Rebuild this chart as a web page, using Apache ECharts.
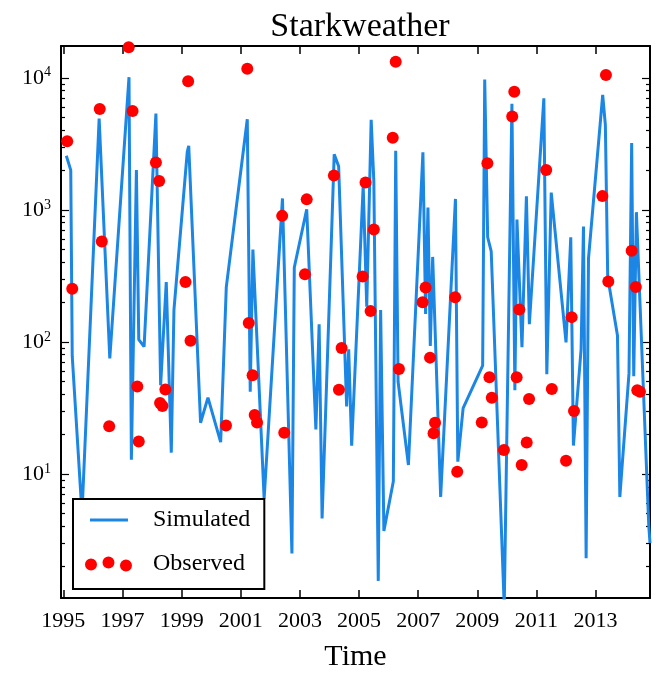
<!DOCTYPE html>
<html><head><meta charset="utf-8">
<script src="https://cdn.jsdelivr.net/npm/echarts@6/dist/echarts.min.js"></script>
<style>html,body{margin:0;padding:0;background:#fff}#c{width:664px;height:677px}</style>
</head><body><div id="c"></div>
<script>
// Simulated series (decimal year, value)
const simYears = [1995.10,1995.25,1995.30,1995.63,1996.21,1996.57,1997.22,1997.30,1997.47,1997.55,1997.73,1998.13,1998.29,1998.48,1998.65,1998.74,1999.19,1999.24,1999.64,1999.89,2000.32,2000.51,2001.22,2001.32,2001.41,2001.79,2002.41,2002.73,2002.81,2003.23,2003.54,2003.65,2003.75,2004.16,2004.31,2004.58,2004.65,2004.75,2005.14,2005.26,2005.41,2005.50,2005.65,2005.73,2005.84,2006.16,2006.24,2006.32,2006.67,2007.16,2007.25,2007.33,2007.41,2007.49,2007.76,2008.26,2008.34,2008.52,2009.18,2009.25,2009.35,2009.47,2009.91,2010.17,2010.27,2010.34,2010.51,2010.66,2010.76,2011.25,2011.35,2011.50,2012.00,2012.16,2012.25,2012.51,2012.59,2012.68,2012.76,2013.24,2013.33,2013.41,2013.74,2013.82,2014.13,2014.22,2014.29,2014.38,2014.80,2014.84];
const simValues = [2570,2000,78,5,4900,75,10100,12.8,2000,104,92,5350,47,284,14.5,175,2750,3050,24.4,37.8,17.4,260,4850,42,500,6.5,1220,2.5,366,1010,21.7,136,4.6,2630,2140,32.5,88,16.4,1520,185,4800,1650,1.55,174,3.7,8.8,2800,50,11.7,2730,163,1040,93,440,6.7,1210,12.4,31.5,66,9700,620,484,1.0,6350,43,845,91,1265,136,6980,57,1350,99,620,16.4,88,747,2.3,428,7430,4400,310,112,6.7,58,3200,55,960,4,3];

// Observed series (decimal year, value)
const obsYears = [1995.13,1995.30,1996.23,1996.30,1996.55,1997.21,1997.34,1997.50,1997.55,1998.13,1998.24,1998.27,1998.35,1998.45,1999.13,1999.22,1999.30,2000.50,2001.22,2001.27,2001.40,2001.47,2001.55,2002.40,2002.47,2003.17,2003.23,2004.15,2004.32,2004.41,2005.12,2005.22,2005.39,2005.50,2006.14,2006.24,2006.35,2007.15,2007.25,2007.40,2007.52,2007.57,2008.25,2008.32,2009.15,2009.34,2009.41,2009.49,2009.90,2010.18,2010.25,2010.33,2010.42,2010.50,2010.67,2010.75,2011.33,2011.52,2012.00,2012.19,2012.27,2013.23,2013.35,2013.43,2014.22,2014.36,2014.41,2014.50];
const obsValues = [3300,253,5800,575,23,17000,5600,46,17.6,2280,1650,34.4,32.7,43.6,284,9400,102,23.3,11700,139,56,28,24.5,900,20.5,325,1200,1820,43.5,90,313,1610,171,711,3510,13200,62.4,200,258,76,20.3,24.4,218,10.4,24.5,2250,54,37.8,15.2,5100,7850,54,176,11.7,17.3,37,2000,44,12.6,154,30,1270,10500,287,490,260,43,42];

const xTickLabels = [1995,1997,1999,2001,2003,2005,2007,2009,2011,2013];
const yMajorTicks = [10,100,1000,10000];
const yMinorTicks = [2,3,4,5,6,7,8,9,20,30,40,50,60,70,80,90,200,300,400,500,600,700,800,900,2000,3000,4000,5000,6000,7000,8000,9000];

const FONT = 'Liberation Serif';
const X_MIN = 1994.92, X_MAX = 2014.84, Y_MIN = 1.15, Y_MAX = 17400;
const BLUE = '#1c86e4', RED = '#ff0000';

const chart = echarts.init(document.getElementById('c'), null, {renderer: 'canvas'});

function xAxisCfg(pos, withLabels) {
  return {
    type: 'value', position: pos, min: X_MIN, max: X_MAX,
    axisLine: {show: true, onZero: false, lineStyle: {color: '#000', width: 2}},
    axisTick: {show: true, inside: true, length: 8, customValues: xTickLabels, lineStyle: {color: '#000', width: 1.5}},
    axisLabel: withLabels ? {show: true, customValues: xTickLabels, formatter: v => String(v), fontFamily: FONT, fontSize: 22, color: '#000', margin: 12} : {show: false},
    splitLine: {show: false},
    name: withLabels ? 'Time' : '', nameLocation: 'middle', nameGap: 44,
    nameTextStyle: {fontFamily: FONT, fontSize: 30, color: '#000'}
  };
}
function yAxisCfg(pos, major, withLabels) {
  return {
    type: 'log', logBase: 10, position: pos, min: Y_MIN, max: Y_MAX,
    axisLine: {show: major, onZero: false, lineStyle: {color: '#000', width: 2}},
    axisTick: {show: true, inside: true, length: major ? 8 : 4, customValues: major ? yMajorTicks : yMinorTicks, lineStyle: {color: '#000', width: 1.2}},
    axisLabel: withLabels ? {
      show: true, customValues: yMajorTicks, margin: 10,
      formatter: v => '{b|10}{s|' + Math.round(Math.log10(v)) + '}',
      rich: {
        b: {fontFamily: FONT, fontSize: 22, color: '#000', lineHeight: 24},
        s: {fontFamily: FONT, fontSize: 14, color: '#000', verticalAlign: 'top', lineHeight: 14}
      }
    } : {show: false},
    splitLine: {show: false}, minorTick: {show: false}
  };
}

// legend icons: 47 x 16 boxes (tiny corner specks fix the bounding box)
const lineIcon = 'path://M5,6.5H43V9.5H5Z M0,0h0.01v0.01h-0.01Z M47,16h0.01v0.01h-0.01Z';
const obsIcon = 'path://M0,8.5a6,6 0 1,0 12,0a6,6 0 1,0 -12,0M17.5,6.5a6,6 0 1,0 12,0a6,6 0 1,0 -12,0M35,9.5a6,6 0 1,0 12,0a6,6 0 1,0 -12,0M0,0h0.01v0.01h-0.01Z M47,16h0.01v0.01h-0.01Z';

chart.setOption({
  animation: false,
  backgroundColor: '#fff',
  title: {
    text: 'Starkweather', left: 355, top: 5, textAlign: 'center',
    textStyle: {fontFamily: FONT, fontSize: 34, fontWeight: 'normal', color: '#000'}
  },
  grid: {left: 61, right: 14, top: 46, bottom: 74, containLabel: false},
  legend: {
    orient: 'vertical', left: 73, top: 499,
    padding: [9, 14, 13, 12], itemGap: 20, itemWidth: 47, itemHeight: 16,
    backgroundColor: '#fff', borderColor: '#000', borderWidth: 2,
    formatter: name => '{sp| }{t|' + name + '}',
    textStyle: {
      fontFamily: FONT, fontSize: 24, color: '#000',
      rich: {sp: {width: 16, lineHeight: 26, fontSize: 24}, t: {fontFamily: FONT, fontSize: 24, color: '#000', lineHeight: 26}}
    },
    data: [{name: 'Simulated', icon: lineIcon}, {name: 'Observed', icon: obsIcon}]
  },
  xAxis: [xAxisCfg('bottom', true), xAxisCfg('top', false)],
  yAxis: [yAxisCfg('left', true, true), yAxisCfg('left', false, false), yAxisCfg('right', true, false), yAxisCfg('right', false, false)],
  series: [
    {
      name: 'Simulated', type: 'line', xAxisIndex: 0, yAxisIndex: 0,
      data: simYears.map((x, i) => [x, simValues[i]]),
      symbol: 'none', showSymbol: false,
      lineStyle: {color: BLUE, width: 3}, itemStyle: {color: BLUE}, z: 2
    },
    {
      name: 'Observed', type: 'scatter', xAxisIndex: 0, yAxisIndex: 0,
      data: obsYears.map((x, i) => [x, obsValues[i]]),
      symbol: 'circle', symbolSize: 12,
      itemStyle: {color: RED, opacity: 1}, z: 3
    }
  ]
});
</script>
</body></html>
